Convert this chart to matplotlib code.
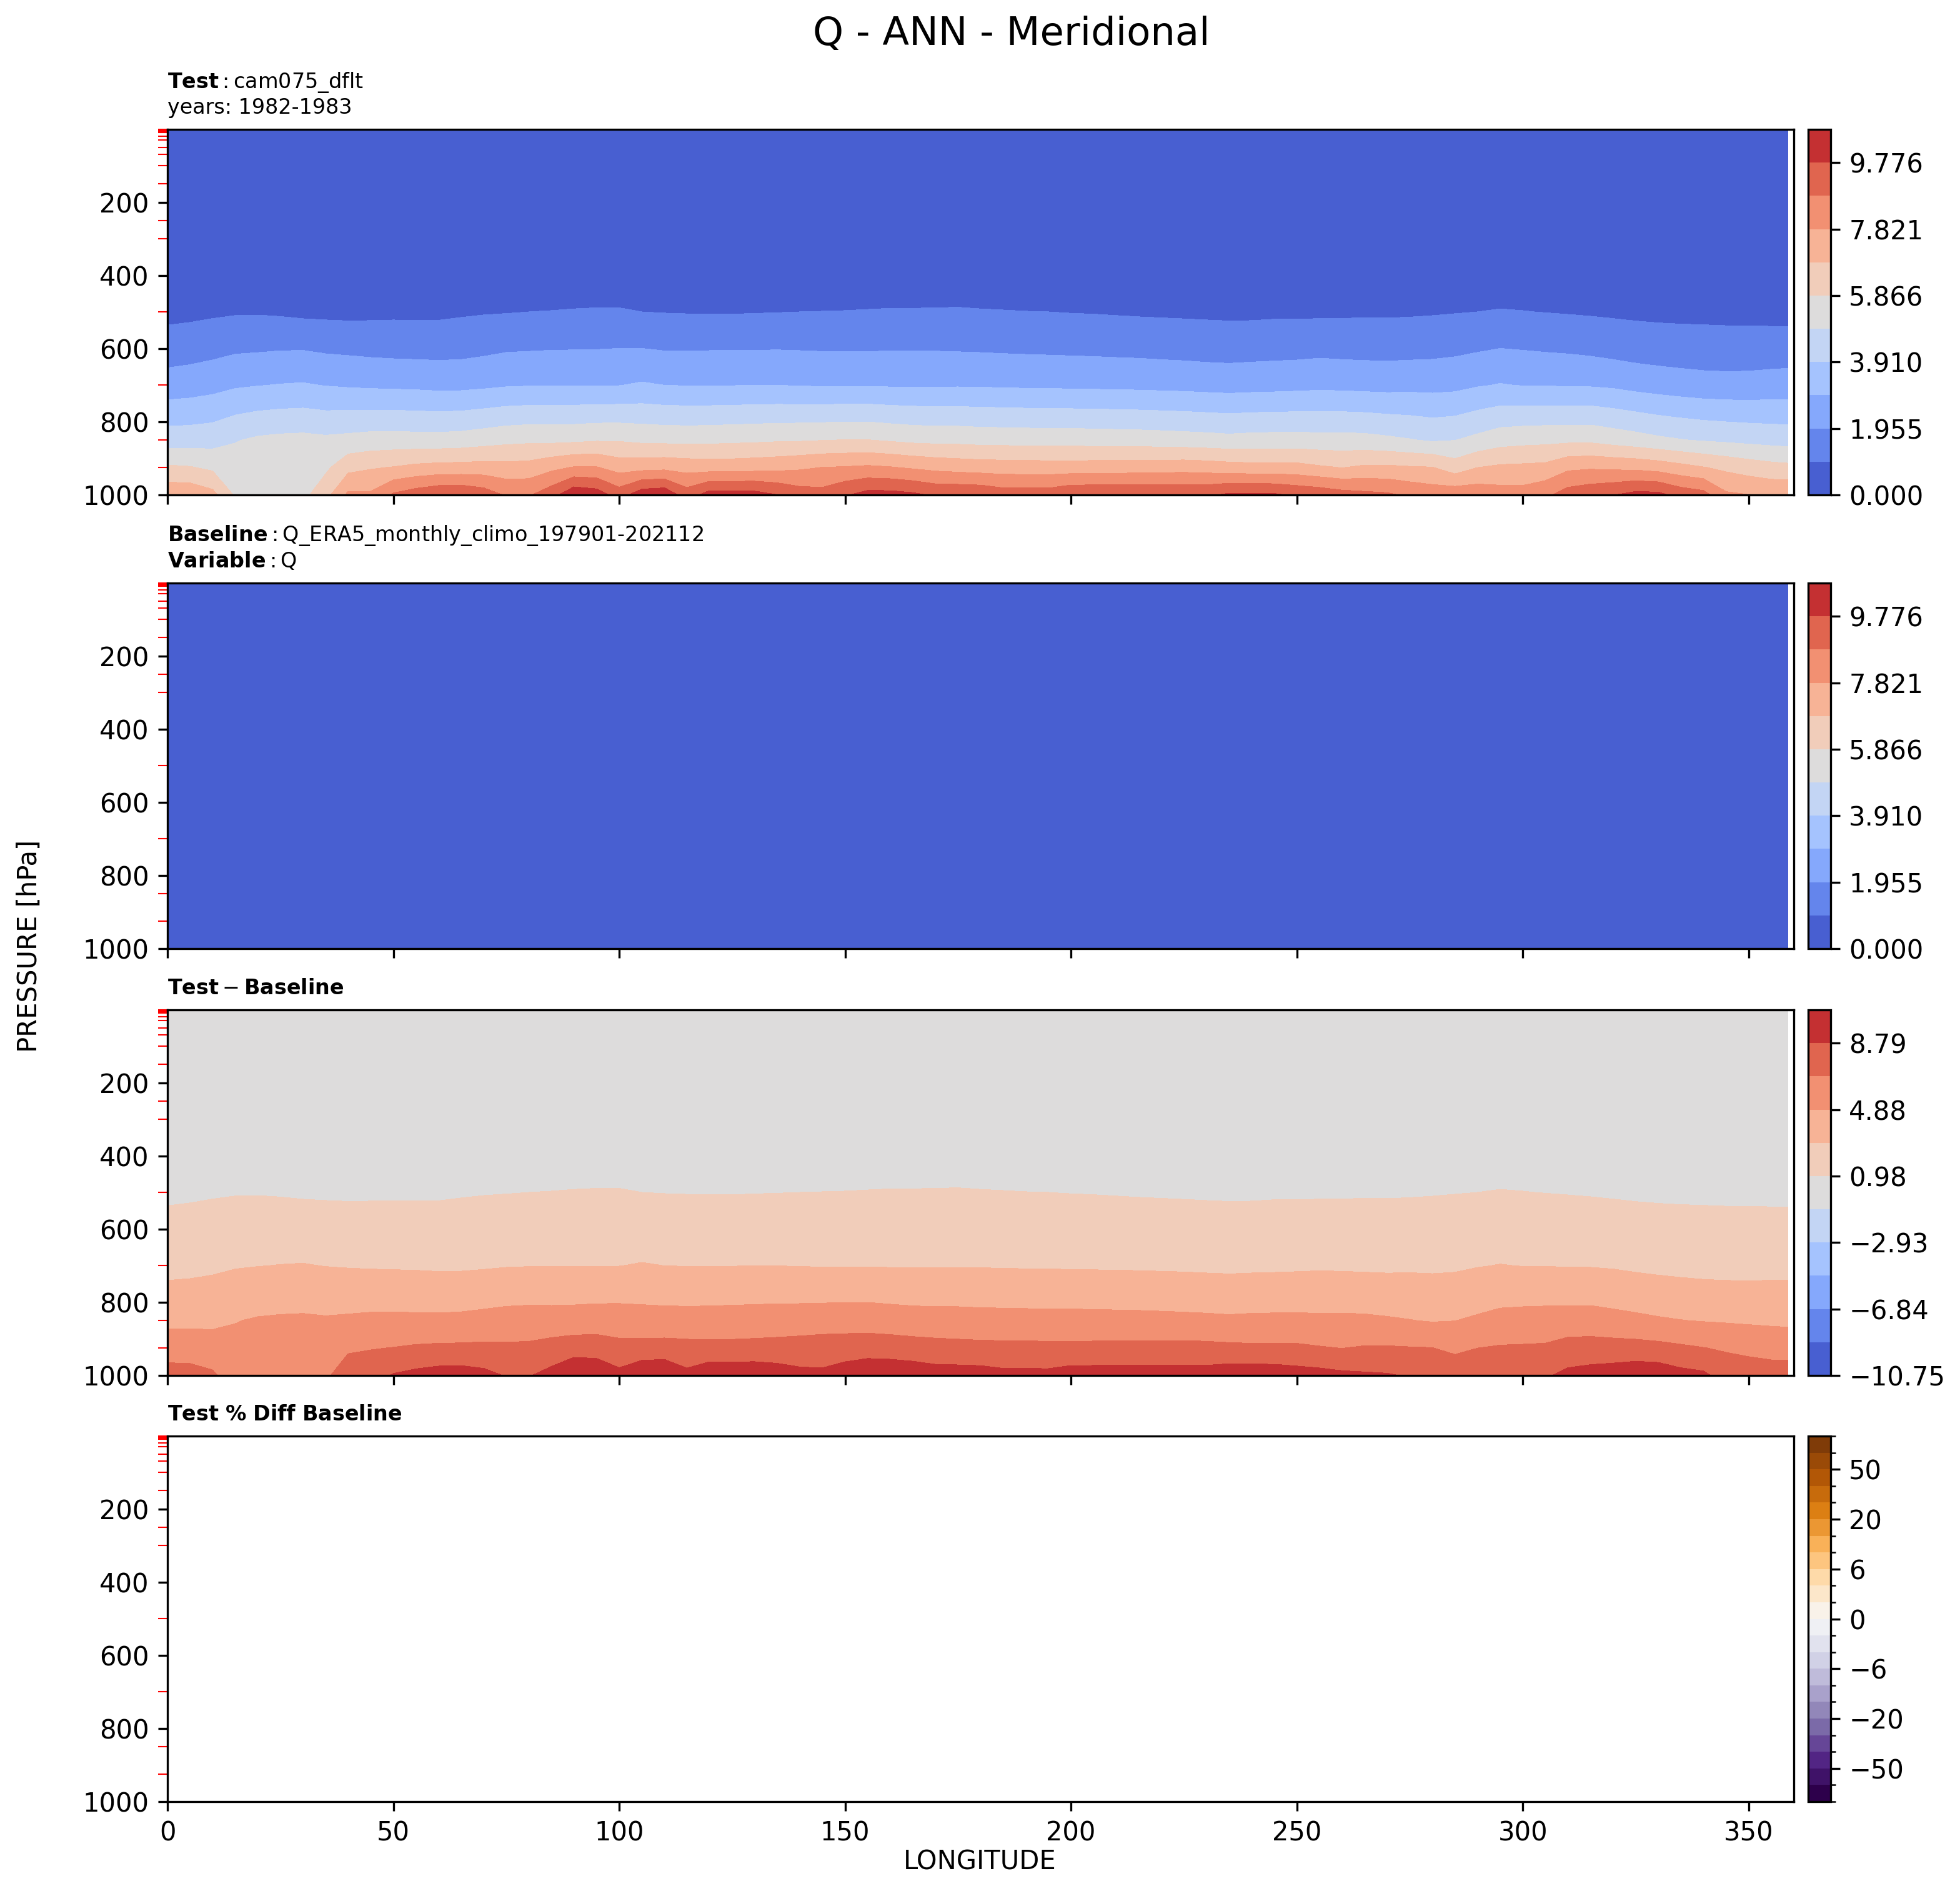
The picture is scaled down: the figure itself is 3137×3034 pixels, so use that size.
import numpy as np
import matplotlib.pyplot as plt
import matplotlib.colors as mcolors
import matplotlib.ticker as mticker

# pressure levels [hPa] and longitudes of the grid
lev = [1, 2, 3, 5, 7, 10, 20, 30, 50, 70, 100, 150, 200, 250, 300, 400,
       500, 600, 700, 850, 925, 1000]
lon = [0, 5, 10, 15, 20, 25, 30, 35, 40, 45, 50, 55, 60, 65, 70, 75, 80, 85,
       90, 95, 100, 105, 110, 115, 120, 125, 130, 135, 140, 145, 150, 155,
       160, 165, 170, 175, 180, 185, 190, 195, 200, 205, 210, 215, 220, 225,
       230, 235, 240, 245, 250, 255, 260, 265, 270, 275, 280, 285, 290, 295,
       300, 305, 310, 315, 320, 325, 330, 335, 340, 345, 350, 355, 358.75]

# test Q [g/kg], 1..400 hPa (all in the lowest colour band)
q_upper = [0.0035, 0.0036, 0.0036, 0.0037, 0.0037, 0.0036, 0.0032, 0.0029,
           0.0027, 0.0026, 0.0028, 0.009, 0.035, 0.08, 0.17, 0.42]

q_500 = [0.70, 0.75, 0.83, 0.89, 0.90, 0.85, 0.77, 0.75, 0.73, 0.76, 0.79, 0.79,
         0.79, 0.86, 0.91, 0.94, 0.98, 1.00, 1.03, 1.05, 1.05, 0.98, 0.95, 0.93,
         0.92, 0.92, 0.94, 0.96, 0.98, 0.99, 1.00, 1.02, 1.04, 1.04, 1.05, 1.06,
         1.03, 1.01, 0.99, 0.98, 0.95, 0.93, 0.90, 0.87, 0.85, 0.83, 0.81, 0.79,
         0.79, 0.82, 0.82, 0.82, 0.84, 0.85, 0.85, 0.87, 0.90, 0.94, 0.98, 1.03,
         1.00, 0.96, 0.92, 0.88, 0.84, 0.80, 0.77, 0.75, 0.74, 0.72, 0.71, 0.68,
         0.67]
q_600 = [1.47, 1.55, 1.66, 1.80, 1.84, 1.89, 1.90, 1.80, 1.75, 1.69, 1.65, 1.63,
         1.62, 1.65, 1.74, 1.85, 1.88, 1.91, 1.92, 1.93, 1.96, 1.96, 1.89, 1.90,
         1.90, 1.91, 1.91, 1.92, 1.90, 1.88, 1.88, 1.88, 1.89, 1.89, 1.89, 1.87,
         1.85, 1.82, 1.80, 1.78, 1.76, 1.74, 1.71, 1.69, 1.65, 1.62, 1.58, 1.56,
         1.59, 1.62, 1.64, 1.69, 1.65, 1.63, 1.62, 1.64, 1.68, 1.75, 1.85, 1.96,
         1.91, 1.85, 1.80, 1.72, 1.61, 1.52, 1.47, 1.44, 1.42, 1.41, 1.42, 1.44,
         1.46]
q_700 = [2.39, 2.47, 2.61, 2.81, 2.90, 2.97, 3.01, 2.90, 2.83, 2.78, 2.75, 2.72,
         2.66, 2.67, 2.75, 2.85, 2.89, 2.91, 2.90, 2.89, 2.91, 3.03, 2.93, 2.90,
         2.90, 2.91, 2.92, 2.92, 2.90, 2.85, 2.87, 2.87, 2.84, 2.84, 2.84, 2.85,
         2.83, 2.81, 2.78, 2.77, 2.75, 2.73, 2.72, 2.69, 2.66, 2.63, 2.58, 2.54,
         2.58, 2.61, 2.65, 2.70, 2.67, 2.63, 2.60, 2.64, 2.62, 2.67, 2.86, 2.98,
         2.90, 2.89, 2.87, 2.85, 2.77, 2.61, 2.49, 2.39, 2.31, 2.28, 2.29, 2.35,
         2.38]
q_850 = [4.42, 4.44, 4.51, 4.83, 5.04, 5.13, 5.17, 5.08, 5.17, 5.27, 5.29, 5.26,
         5.25, 5.31, 5.45, 5.60, 5.67, 5.64, 5.68, 5.78, 5.78, 5.65, 5.61, 5.59,
         5.61, 5.66, 5.70, 5.76, 5.78, 5.84, 5.89, 5.89, 5.76, 5.64, 5.59, 5.58,
         5.52, 5.50, 5.48, 5.46, 5.46, 5.44, 5.41, 5.39, 5.35, 5.30, 5.25, 5.18,
         5.24, 5.26, 5.26, 5.23, 5.24, 5.20, 5.08, 4.94, 4.78, 4.87, 5.15, 5.45,
         5.56, 5.61, 5.65, 5.66, 5.46, 5.28, 5.08, 4.93, 4.81, 4.72, 4.63, 4.55,
         4.50]
q_925 = [6.01, 5.93, 5.68, 5.35, 5.25, 5.10, 5.00, 5.67, 6.54, 6.76, 6.89, 7.08,
         7.18, 7.20, 7.25, 7.18, 7.22, 7.58, 7.89, 7.88, 7.43, 7.49, 7.56, 7.44,
         7.38, 7.39, 7.46, 7.54, 7.68, 7.84, 7.89, 7.98, 7.88, 7.71, 7.55, 7.45,
         7.37, 7.34, 7.32, 7.30, 7.30, 7.32, 7.34, 7.37, 7.40, 7.43, 7.36, 7.26,
         7.18, 7.18, 7.17, 6.97, 6.82, 7.00, 7.01, 6.93, 6.88, 6.34, 6.84, 7.01,
         7.05, 7.11, 7.62, 7.71, 7.64, 7.58, 7.42, 7.15, 6.89, 6.63, 6.39, 6.20,
         6.12]
q_1000 = [7.57, 7.56, 7.14, 5.75, 5.45, 5.40, 5.60, 6.50, 8.02, 7.98, 8.95, 9.34,
          9.64, 9.70, 9.34, 8.70, 8.70, 9.40, 10.57, 10.31, 9.34, 10.40, 10.55, 9.30,
          10.22, 10.20, 10.15, 9.80, 9.30, 9.17, 9.70, 10.13, 10.13, 9.97, 9.65, 9.65,
          9.60, 9.31, 9.30, 9.30, 9.65, 9.65, 9.65, 9.65, 9.65, 9.65, 9.65, 9.94,
          9.94, 9.92, 9.65, 9.49, 9.22, 9.07, 8.96, 8.64, 8.40, 8.50, 8.47, 8.27,
          8.23, 8.60, 9.26, 9.51, 9.75, 10.10, 10.05, 9.44, 9.17, 7.99, 7.84, 7.70,
          7.75]

# baseline (ERA5) Q profile, kg/kg
q_base = [2.6e-6, 2.6e-6, 2.6e-6, 2.6e-6, 2.6e-6, 2.5e-6, 2.4e-6, 2.3e-6,
          2.2e-6, 2.2e-6, 2.6e-6, 8e-6, 3.3e-5, 8.1e-5, 1.7e-4, 4.6e-4,
          1.0e-3, 1.8e-3, 2.8e-3, 5.6e-3, 7.3e-3, 8.9e-3]

test_max = 10.7536
diff_max = 10.746
pct_levels = [-100, -75, -50, -40, -30, -20, -15, -10, -6, -4, -2, 0, 2, 4, 6,
              10, 15, 20, 30, 40, 50, 75, 100]
pct_ticks = [-50, -20, -6, 0, 6, 20, 50]

nlon = len(lon)
test = np.vstack([np.tile(np.array(q_upper)[:, None], (1, nlon)),
                  q_500, q_600, q_700, q_850, q_925, q_1000])
base = np.tile(np.array(q_base)[:, None], (1, nlon))
diff = test - base
pct = (test - base) / base * 100.

test_levels = np.linspace(0, test_max, 12)
diff_levels = np.linspace(-diff_max, diff_max, 12)


def minus_fmt(fmt):
    return mticker.FuncFormatter(lambda v, pos: (fmt % v).replace('-', '\u2212'))


W, H = 3137, 3034
fig = plt.figure(figsize=(W / 300., H / 300.), dpi=300)

left = 268 / W
width = (2871 - 268) / W
tops = [207, 933, 1616, 2298]
ph = 585

axes = []
for t in tops:
    ax = fig.add_axes([left, 1 - (t + ph) / H, width, ph / H])
    axes.append(ax)


def cax_for(t):
    return fig.add_axes([2894 / W, 1 - (t + ph) / H, 36 / W, ph / H])


cf1 = axes[0].contourf(lon, lev, test, levels=test_levels, cmap='coolwarm')
fig.colorbar(cf1, cax=cax_for(tops[0]), ticks=test_levels[::2], format=minus_fmt('%.3f'))

cf2 = axes[1].contourf(lon, lev, base, levels=test_levels, cmap='coolwarm')
fig.colorbar(cf2, cax=cax_for(tops[1]), ticks=test_levels[::2], format=minus_fmt('%.3f'))

cf3 = axes[2].contourf(lon, lev, diff, levels=diff_levels, cmap='coolwarm')
fig.colorbar(cf3, cax=cax_for(tops[2]), ticks=diff_levels[::2], format=minus_fmt('%.2f'))

pct_norm = mcolors.BoundaryNorm(pct_levels, ncolors=256)
cf4 = axes[3].contourf(lon, lev, pct, levels=pct_levels, cmap='PuOr_r', norm=pct_norm)
cb = fig.colorbar(cf4, cax=cax_for(tops[3]))
cb.set_ticks(pct_ticks)
cb.set_ticks(pct_levels, minor=True)
cb.set_ticklabels([str(v).replace('-', '\u2212') for v in pct_ticks])

for i, ax in enumerate(axes):
    ax.set_xlim(0, 360)
    ax.set_ylim(1000, 1)
    ax.set_xticks(np.arange(0, 351, 50))
    ax.set_yticks([200, 400, 600, 800, 1000])
    ax.set_yticks(lev, minor=True)
    ax.tick_params(axis='y', which='minor', color='red', length=3.5, width=0.5)
    if i < 3:
        ax.tick_params(labelbottom=False)

axes[0].set_title(r"$\mathbf{Test}:$cam075_dflt" + "\nyears: 1982-1983",
                  loc='left', fontsize=8)
axes[1].set_title(r"$\mathbf{Baseline}:$Q_ERA5_monthly_climo_197901-202112" + "\n"
                  + r"$\mathbf{Variable}:$Q", loc='left', fontsize=8)
axes[2].set_title(r"$\mathbf{Test} - \mathbf{Baseline}$", loc='left', fontsize=8)
axes[3].set_title(r"$\mathbf{Test\ \%\ Diff\ Baseline}$", loc='left', fontsize=8)

fig.text(0.516, 0.982, 'Q - ANN - Meridional', ha='center', va='center', fontsize=15)
fig.text(0.015, 0.501, 'PRESSURE [hPa]', rotation=90, ha='center', va='center', fontsize=10)
fig.text(0.5, 0.018, 'LONGITUDE', ha='center', va='center', fontsize=10)

fig.savefig('out.png', dpi=300)
